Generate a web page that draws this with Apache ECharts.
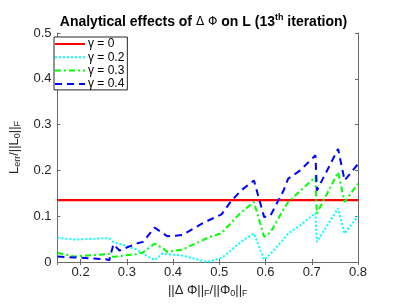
<!DOCTYPE html>
<html><head><meta charset="utf-8">
<script src="https://cdn.jsdelivr.net/npm/echarts@6/dist/echarts.min.js"></script>
<style>html,body{margin:0;padding:0;background:#fff}#c{width:407px;height:308px}</style>
</head><body><div id="c"></div>
<script>
// shared x positions (||ΔΦ||_F/||Φ0||_F)
const xs = [0.15,0.185,0.255,0.262,0.271,0.284,0.32,0.335,0.36,0.378,0.388,0.42,0.465,0.475,0.505,0.525,0.547,0.575,0.597,0.611,0.639,0.649,0.675,0.708,0.711,0.757,0.771,0.8];
const gamma0 = [0.135,0.135,0.135,0.135,0.135,0.135,0.135,0.135,0.135,0.135,0.135,0.135,0.135,0.135,0.135,0.135,0.135,0.135,0.135,0.135,0.135,0.135,0.135,0.135,0.135,0.135,0.135,0.135];
const gamma02 = [0.053,0.049,0.052,0.052,0.043,0.040,0.028,0.018,0.004,0.019,0.017,0.014,0.002,0.000,0.009,0.025,0.044,0.062,0.005,0.018,0.050,0.062,0.080,0.107,0.044,0.117,0.062,0.100];
const gamma03 = [0.020,0.012,0.017,0.018,0.011,0.013,0.017,0.021,0.040,0.030,0.022,0.027,0.048,0.053,0.063,0.085,0.108,0.131,0.055,0.065,0.115,0.131,0.155,0.186,0.106,0.196,0.131,0.171];
const gamma04 = [0.012,0.010,0.006,0.004,0.039,0.025,0.040,0.044,0.075,0.063,0.056,0.059,0.085,0.090,0.104,0.132,0.156,0.178,0.098,0.102,0.156,0.182,0.200,0.233,0.156,0.247,0.178,0.214];
const seriesNames = ['γ = 0','γ = 0.2','γ = 0.3','γ = 0.4'];
const yTicks = [0,0.1,0.2,0.3,0.4,0.5];

const pair = v => xs.map((x,i)=>[x,v[i]]);
const font = 'Liberation Sans, Arial, sans-serif';
const axisCol = '#262626';
const lineCol = '#6a6a6a';
const chart = echarts.init(document.getElementById('c'), null, {renderer:'canvas'});
const styles = [
  {color:'#ff0000', width:2.4, type:'solid'},
  {color:'#00ffff', width:2, type:[2,2]},
  {color:'#00ff00', width:2, type:[6,3,2,3]},
  {color:'#0000ff', width:2, type:[7,5]}
];
const vals = [gamma0,gamma02,gamma03,gamma04];
const baseX = {type:'value', min:0.15, max:0.8, minInterval:0.1, maxInterval:0.1,
  axisLine:{show:true,lineStyle:{color:lineCol,width:1}}, splitLine:{show:false},
  axisTick:{inside:true,length:3,lineStyle:{color:lineCol}}};
const baseY = {type:'value', min:0, max:0.5, interval:0.1,
  axisLine:{show:true,lineStyle:{color:lineCol,width:1}}, splitLine:{show:false},
  axisTick:{inside:true,length:3,lineStyle:{color:lineCol}}};
chart.setOption({
  animation:false,
  backgroundColor:'#fff',
  title:{left:'center', top:8, text:'{b|Analytical effects of }{s|Δ Φ}{b| on L (13}{sup|th}{b| iteration)}',
    textStyle:{rich:{
      b:{fontFamily:font,fontWeight:'bold',fontSize:14,color:'#000'},
      s:{fontFamily:'DejaVu Sans',fontWeight:'normal',fontSize:12,color:'#000'},
      sup:{fontFamily:font,fontWeight:'bold',fontSize:9,color:'#000',padding:[0,0,9,0]}
    }}},
  grid:{left:53, right:49, top:33, bottom:46, containLabel:false},
  legend:{orient:'vertical', left:54, top:37, itemWidth:30, itemHeight:10, itemGap:1.3,
    padding:[1,3,0,0], backgroundColor:'#fff', borderColor:axisCol, borderWidth:1,
    itemStyle:{opacity:0, borderWidth:0},
    textStyle:{fontFamily:font,fontSize:12,color:'#000',lineHeight:10,padding:[0,0,0,-2]}, data:seriesNames},
  xAxis:[Object.assign({}, baseX, {position:'bottom',
      axisLabel:{showMinLabel:false, fontFamily:font, fontSize:13, color:axisCol, margin:4,
        formatter:v=>Math.abs(v-0.15)<1e-6?'':v.toFixed(1)},
      name:'{t|||Δ Φ||}{s|F}{t|/||Φ}{s|0}{t|||}{s|F}', nameLocation:'middle', nameGap:16,
      nameTextStyle:{rich:{t:{fontFamily:font,fontSize:13,color:axisCol},s:{fontFamily:font,fontSize:9,color:axisCol,padding:[7,0,0,0]}}}}),
    Object.assign({}, baseX, {position:'top', axisLabel:{show:false}})],
  yAxis:[Object.assign({}, baseY, {position:'left',
      axisLabel:{fontFamily:font, fontSize:13, color:axisCol, margin:6, formatter:v=>v===0?'0':v.toFixed(1)},
      name:'{t|L}{s|err}{t|/||L}{s|0}{t|||}{s|F}', nameLocation:'middle', nameGap:31, nameRotate:90,
      nameTextStyle:{rich:{t:{fontFamily:font,fontSize:13,color:axisCol},s:{fontFamily:font,fontSize:9,color:axisCol,padding:[7,0,0,0]}}}}),
    Object.assign({}, baseY, {position:'right', axisLabel:{show:false}})],
  series: seriesNames.map((n,i)=>({name:n, type:'line', xAxisIndex:0, yAxisIndex:0,
    data:pair(vals[i]), showSymbol:false, symbol:'none', smooth:false,
    color:styles[i].color,
    lineStyle:{color:styles[i].color, width:styles[i].width, type:styles[i].type}}))
});
</script></body></html>
